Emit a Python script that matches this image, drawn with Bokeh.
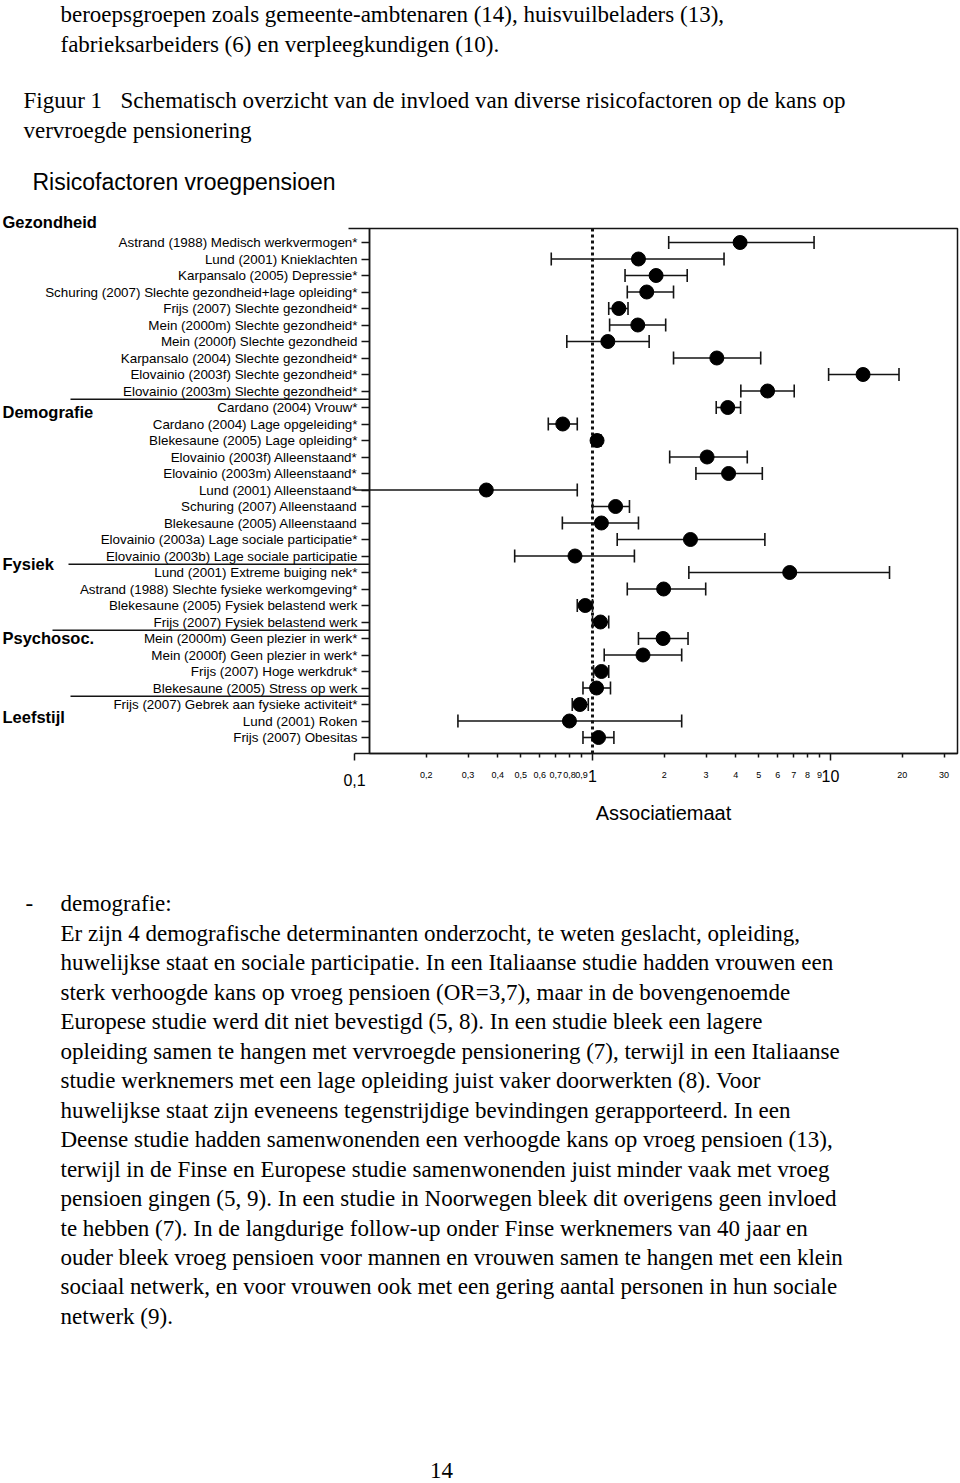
import math
from bokeh.plotting import figure
from bokeh.models import Range1d, FixedTicker, Span
from bokeh.core.properties import value
from bokeh.embed import file_html
from bokeh.resources import INLINE

# ---------------- data ----------------
labels = [
    "Astrand (1988) Medisch werkvermogen*",
    "Lund (2001) Knieklachten",
    "Karpansalo (2005) Depressie*",
    "Schuring (2007) Slechte gezondheid+lage opleiding*",
    "Frijs (2007) Slechte gezondheid*",
    "Mein (2000m) Slechte gezondheid*",
    "Mein (2000f) Slechte gezondheid",
    "Karpansalo (2004) Slechte gezondheid*",
    "Elovainio (2003f) Slechte gezondheid*",
    "Elovainio (2003m) Slechte gezondheid*",
    "Cardano (2004) Vrouw*",
    "Cardano (2004) Lage opgeleiding*",
    "Blekesaune (2005) Lage opleiding*",
    "Elovainio (2003f) Alleenstaand*",
    "Elovainio (2003m) Alleenstaand*",
    "Lund (2001) Alleenstaand*",
    "Schuring (2007) Alleenstaand",
    "Blekesaune (2005) Alleenstaand",
    "Elovainio (2003a) Lage sociale participatie*",
    "Elovainio (2003b) Lage sociale participatie",
    "Lund (2001) Extreme buiging nek*",
    "Astrand (1988) Slechte fysieke werkomgeving*",
    "Blekesaune (2005) Fysiek belastend werk",
    "Frijs (2007) Fysiek belastend werk",
    "Mein (2000m) Geen plezier in werk*",
    "Mein (2000f) Geen plezier in werk*",
    "Frijs (2007) Hoge werkdruk*",
    "Blekesaune (2005) Stress op werk",
    "Frijs (2007) Gebrek aan fysieke activiteit*",
    "Lund (2001) Roken",
    "Frijs (2007) Obesitas",
]
or_vals = [4.17, 1.56, 1.85, 1.69, 1.29, 1.55, 1.16, 3.33, 13.7, 5.44,
           3.7, 0.75, 1.045, 3.03, 3.73, 0.358, 1.25, 1.09, 2.58, 0.844,
           6.74, 1.99, 0.932, 1.08, 1.98, 1.63, 1.09, 1.04, 0.885, 0.80, 1.06]
ci_lo = [2.09, 0.671, 1.37, 1.40, 1.17, 1.18, 0.78, 2.19, 9.82, 4.20,
         3.31, 0.652, 1.015, 2.11, 2.72, 0.1, 1.0, 0.747, 1.27, 0.471,
         2.54, 1.40, 0.863, 1.0, 1.56, 1.12, 1.01, 0.912, 0.822, 0.272, 0.912]
ci_hi = [8.53, 3.57, 2.50, 2.19, 1.41, 2.03, 1.73, 5.09, 19.4, 7.04,
         4.19, 0.863, 1.085, 4.47, 5.17, 0.863, 1.43, 1.56, 5.30, 1.50,
         17.7, 2.99, 1.0, 1.17, 2.52, 2.37, 1.17, 1.19, 0.96, 2.37, 1.23]
group_names = ["Gezondheid", "Demografie", "Fysiek", "Psychosoc.", "Leefstijl"]
group_sizes = [10, 10, 4, 4, 3]
major_ticks = [0.1, 1, 10]
major_tick_labels = ["0,1", "1", "10"]
minor_ticks = [0.2, 0.3, 0.4, 0.5, 0.6, 0.7, 0.8, 0.9, 2, 3, 4, 5, 6, 7, 8, 9, 20, 30]
minor_tick_labels = ["0,2", "0,3", "0,4", "0,5", "0,6", "0,7", "0,8", "0,9",
                     "2", "3", "4", "5", "6", "7", "8", "9", "20", "30"]
axis_title = "Associatiemaat"
chart_title = "Risicofactoren vroegpensioen"

top_lines = ["beroepsgroepen zoals gemeente-ambtenaren (14), huisvuilbeladers (13),",
             "fabrieksarbeiders (6) en verpleegkundigen (10)."]
caption_label = "Figuur 1"
caption_lines = ["Schematisch overzicht van de invloed van diverse risicofactoren op de kans op",
                 "vervroegde pensionering"]
bullet_head = "demografie:"
body_lines = [
    "Er zijn 4 demografische determinanten onderzocht, te weten geslacht, opleiding,",
    "huwelijkse staat en sociale participatie. In een Italiaanse studie hadden vrouwen een",
    "sterk verhoogde kans op vroeg pensioen (OR=3,7), maar in de bovengenoemde",
    "Europese studie werd dit niet bevestigd (5, 8). In een studie bleek een lagere",
    "opleiding samen te hangen met vervroegde pensionering (7), terwijl in een Italiaanse",
    "studie werknemers met een lage opleiding juist vaker doorwerkten (8). Voor",
    "huwelijkse staat zijn eveneens tegenstrijdige bevindingen gerapporteerd. In een",
    "Deense studie hadden samenwonenden een verhoogde kans op vroeg pensioen (13),",
    "terwijl in de Finse en Europese studie samenwonenden juist minder vaak met vroeg",
    "pensioen gingen (5, 9). In een studie in Noorwegen bleek dit overigens geen invloed",
    "te hebben (7). In de langdurige follow-up onder Finse werknemers van 40 jaar en",
    "ouder bleek vroeg pensioen voor mannen en vrouwen samen te hangen met een klein",
    "sociaal netwerk, en voor vrouwen ook met een gering aantal personen in hun sociale",
    "netwerk (9).",
]
page_number = "14"

# ---------------- layout helpers (picture pixel -> data) ----------------
OFF = 0
DEC = 238.0          # px per decade
ROWH = 16.5          # px per row
def xd(px):
    return 10 ** ((px - 592.0) / DEC)
def yd(py):
    return (py - 242.0) / ROWH

W, H = 960, 1483
frame_l, frame_r, frame_t, frame_b = 369, 957, 228, 753
x_start, x_end = xd(frame_l), xd(frame_r)
y_top, y_bot = yd(frame_t), yd(frame_b)

SANS = value("Liberation Sans")
SERIF = value("Liberation Serif")
INK = "#141414"

p = figure(width=W, height=H, x_axis_type="log",
           x_range=Range1d(x_start, x_end), y_range=Range1d(y_bot, y_top),
           output_backend="svg", toolbar_location=None,
           min_border_left=frame_l - OFF, min_border_right=W - (frame_r - OFF),
           min_border_top=frame_t - OFF, min_border_bottom=H - (frame_b - OFF))
p.grid.visible = False
p.outline_line_color = INK
p.outline_line_width = 1.5
p.background_fill_color = "white"
p.border_fill_color = "white"

rows = list(range(len(labels)))

# y axis
ya = p.yaxis[0]
ya.ticker = FixedTicker(ticks=rows)
ya.major_label_overrides = {i: lab for i, lab in enumerate(labels)}
ya.major_label_text_font = "Liberation Sans"
ya.major_label_text_font_size = "13.4px"
ya.major_label_text_color = "black"
ya.major_tick_out = 8
ya.major_tick_in = 0
ya.minor_tick_out = 0
ya.minor_tick_in = 0
ya.major_label_standoff = 4
ya.axis_line_color = INK
ya.axis_line_width = 1.5
ya.major_tick_line_color = INK
ya.major_tick_line_width = 1.5

# x axis
xa = p.xaxis[0]
xa.ticker = FixedTicker(ticks=major_ticks, minor_ticks=minor_ticks)
xa.major_label_overrides = {t: l for t, l in zip(major_ticks, major_tick_labels)}
xa.major_label_text_font = "Liberation Sans"
xa.major_label_text_font_size = "16px"
xa.major_label_text_color = "black"
xa.major_label_standoff = 9
xa.major_tick_out = 7
xa.major_tick_in = 0
xa.minor_tick_out = 4
xa.minor_tick_in = 0
xa.axis_line_color = INK
xa.axis_line_width = 1.5
xa.major_tick_line_color = INK
xa.major_tick_line_width = 1.5
xa.minor_tick_line_color = INK
xa.minor_tick_line_width = 1.5
xa.axis_label = axis_title
xa.axis_label_text_font = "Liberation Sans"
xa.axis_label_text_font_size = "20px"
xa.axis_label_text_font_style = "normal"
xa.axis_label_text_color = "black"
xa.axis_label_standoff = 17

# small tick labels
p.text(x=minor_ticks, y=[yd(774)] * len(minor_ticks), text=minor_tick_labels,
       text_font=SANS, text_font_size="9px", text_align="center",
       text_baseline="middle", text_color="black", level="overlay")
# the 0,1 tick sits left of the frame: extend axis, tick and label
p.segment(x0=[major_ticks[0]], x1=[x_start], y0=[y_bot], y1=[y_bot],
          line_color=INK, line_width=1.5, level="overlay")
p.segment(x0=[major_ticks[0]], x1=[major_ticks[0]], y0=[y_bot], y1=[yd(760)],
          line_color=INK, line_width=1.5, level="overlay")
p.text(x=[major_ticks[0]], y=[yd(779)], text=[major_tick_labels[0]],
       text_font=SANS, text_font_size="16px", text_align="center",
       text_baseline="middle", text_color="black", level="overlay")
# top-left corner extension
p.segment(x0=[xd(348)], x1=[x_start], y0=[y_top], y1=[y_top],
          line_color=INK, line_width=1.5, level="overlay")

# reference line at 1
p.add_layout(Span(location=1, dimension="height", line_color=INK,
                  line_width=3, line_dash="3 3", level="underlay"))

# group separators
bounds = []
acc = 0
for s in group_sizes[:-1]:
    acc += s
    bounds.append(acc - 0.5)
sep_starts = [xd(70), xd(68), xd(52), xd(70)]
p.segment(x0=sep_starts, x1=[x_start] * len(bounds), y0=bounds, y1=bounds,
          line_color=INK, line_width=1.5, level="overlay")

# group names
p.text(x=[xd(2)] * len(group_names),
       y=[yd(221), yd(411), yd(563), yd(637), yd(716)],
       text=group_names, text_font=SANS, text_font_size="16.5px",
       text_font_style="bold", text_align="left", text_baseline="middle",
       text_color="black", level="overlay")

# confidence intervals
p.segment(x0=ci_lo, x1=ci_hi, y0=rows, y1=rows, line_color=INK,
          line_width=1.6, level="overlay")
cap_x = [v for v in ci_lo if v >= x_start] + ci_hi
cap_y = [r for r, v in zip(rows, ci_lo) if v >= x_start] + rows
p.scatter(x=cap_x, y=cap_y, marker="dash", angle=math.pi / 2, size=13,
          line_color=INK, line_width=1.6, level="overlay")
# point estimates
p.scatter(x=or_vals, y=rows, marker="circle", size=14, fill_color="black",
          line_color="black", level="overlay")

# chart title
p.text(x=[xd(32)], y=[yd(181)], text=[chart_title], text_font=SANS,
       text_font_size="23px", text_align="left", text_baseline="middle",
       text_color="black", level="overlay")

# surrounding document text
p.text(x=[xd(60)] * len(top_lines), y=[yd(14 + 29.6 * i) for i in range(len(top_lines))],
       text=top_lines, text_font=SERIF, text_font_size="23px",
       text_align="left", text_baseline="middle", text_color="black", level="overlay")
p.text(x=[xd(23)], y=[yd(100)], text=[caption_label], text_font=SERIF,
       text_font_size="23px", text_align="left", text_baseline="middle",
       text_color="black", level="overlay")
p.text(x=[xd(120), xd(23)], y=[yd(100), yd(130)], text=caption_lines, text_font=SERIF,
       text_font_size="23px", text_align="left", text_baseline="middle",
       text_color="black", level="overlay")
p.text(x=[xd(25), xd(60)], y=[yd(903), yd(903)], text=["-", bullet_head],
       text_font=SERIF, text_font_size="23px", text_align="left",
       text_baseline="middle", text_color="black", level="overlay")
p.text(x=[xd(60)] * len(body_lines), y=[yd(933 + 29.45 * i) for i in range(len(body_lines))],
       text=body_lines, text_font=SERIF, text_font_size="23px",
       text_align="left", text_baseline="middle", text_color="black", level="overlay")
p.text(x=[xd(441)], y=[yd(1470)], text=[page_number], text_font=SERIF,
       text_font_size="23px", text_align="center", text_baseline="middle",
       text_color="black", level="overlay")

open("out.html", "w").write(file_html(p, INLINE))
